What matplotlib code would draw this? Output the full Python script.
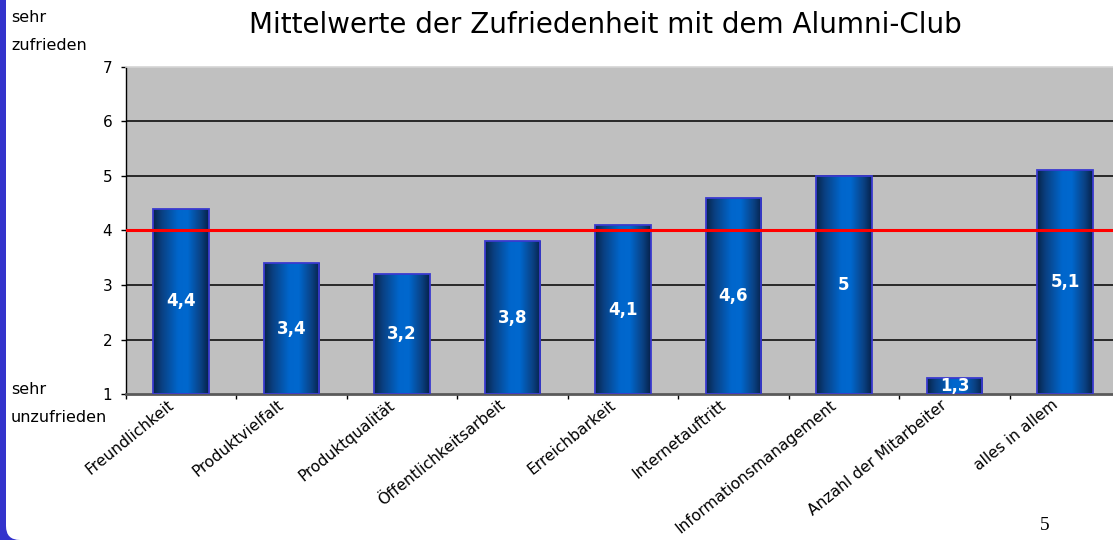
import matplotlib
matplotlib.use("Agg")
import matplotlib.pyplot as plt
import numpy as np
from matplotlib.patches import Rectangle, FancyBboxPatch
from matplotlib.colors import LinearSegmentedColormap
import matplotlib.transforms as mtransforms

categories = ["Freundlichkeit", "Produktvielfalt", "Produktqualität",
              "Öffentlichkeitsarbeit", "Erreichbarkeit", "Internetauftritt",
              "Informationsmanagement", "Anzahl der Mitarbeiter", "alles in allem"]
values = [4.4, 3.4, 3.2, 3.8, 4.1, 4.6, 5.0, 1.3, 5.1]
reference_level = 4
y_ticks = [1, 2, 3, 4, 5, 6, 7]
title = "Mittelwerte der Zufriedenheit mit dem Alumni-Club"
top_label = ["sehr", "zufrieden"]
bottom_label = ["sehr", "unzufrieden"]
page_number = "5"

plt.rcParams['font.family'] = ['DejaVu Sans']

W, H = 1113, 540
fig = plt.figure(figsize=(W / 100, H / 100), dpi=100)

# slide frame: blue left stripe with rounded white page
fig.patches.append(Rectangle((0, 0), 30, H, transform=mtransforms.IdentityTransform(),
                             facecolor="#3333CC", edgecolor="none", zorder=-3))
fig.patches.append(FancyBboxPatch((6, 0), W + 100, H + 100,
                                  boxstyle="round,pad=0,rounding_size=14",
                                  transform=mtransforms.IdentityTransform(),
                                  facecolor="white", edgecolor="none", zorder=-2))

ax_left, ax_right, ax_top, ax_bottom = 125.7, 1120.2, 66.7, 394.3
ax = fig.add_axes([ax_left / W, 1 - ax_bottom / H,
                   (ax_right - ax_left) / W, (ax_bottom - ax_top) / H])
ax.set_facecolor("#C0C0C0")

n = len(categories)
x = np.arange(n)

for yv in y_ticks[1:-1]:
    ax.axhline(yv, color="black", lw=1.1, zorder=0.5)

cmap = LinearSegmentedColormap.from_list("bar", [
    (0.0, "#062448"), (0.15, "#0A3F80"), (0.45, "#0066CC"),
    (0.62, "#0068CE"), (0.85, "#0A4285"), (1.0, "#05214A")])
grad = np.linspace(0, 1, 256).reshape(1, -1)

bars = ax.bar(x, np.array(values) - y_ticks[0], bottom=y_ticks[0], width=0.5,
              facecolor="none", edgecolor="#3A3ACF", linewidth=1.3, zorder=3)
for b in bars:
    x0, y0 = b.get_x(), b.get_y()
    w, h = b.get_width(), b.get_height()
    im = ax.imshow(grad, cmap=cmap, extent=(x0, x0 + w, y0, y0 + h),
                   aspect="auto", zorder=2, interpolation="bilinear")
    clip = Rectangle((x0, y0), w, h, transform=ax.transData)
    im.set_clip_path(clip)

ax.set_xlim(-0.5, n - 0.5)
ax.set_ylim(y_ticks[0], y_ticks[-1])

ax.axhline(reference_level, color="#FF0000", lw=2.2, zorder=4)

for xi, v in zip(x, values):
    ax.text(xi, (v + y_ticks[0]) / 2, f"{v:g}".replace(".", ","),
            ha="center", va="center", color="white", fontsize=12,
            fontweight="bold", zorder=5)

# axes styling
ax.set_yticks(y_ticks)
ax.set_yticklabels([str(t) for t in y_ticks], fontsize=11)
ax.tick_params(axis="y", direction="out", length=3.6, width=1, pad=6, colors="black")
ax.set_xticks([])
ax.set_xticks(np.arange(-0.5, n, 1.0), minor=True)
ax.tick_params(axis="x", which="minor", direction="out", length=3.6, width=1,
               color="black", labelbottom=False)
ax.spines["left"].set_color("black")
ax.spines["left"].set_linewidth(1)
ax.spines["bottom"].set_color("#5A5A5A")
ax.spines["bottom"].set_linewidth(2)
ax.spines["top"].set_color("#D4D4D4")
ax.spines["top"].set_linewidth(1.2)
ax.spines["right"].set_visible(False)

# category labels drawn below the axes (so the plot area can cover them)
blend = mtransforms.blended_transform_factory(ax.transData, ax.transAxes)
lab_tr = mtransforms.offset_copy(blend, fig=fig, x=-14, y=-3, units="dots")
for xi, c in zip(x, categories):
    fig.text(xi, 0, c, transform=lab_tr, rotation=39, rotation_mode="anchor",
             ha="right", va="top", fontsize=11.2, color="black", zorder=-1)

fig.text(605 / W, 1 - 33 / H, title, ha="center", va="baseline", fontsize=20,
         color="black")
fig.text(11 / W, 1 - 18 / H, top_label[0], ha="left", va="center", fontsize=11.5)
fig.text(11 / W, 1 - 45 / H, top_label[1], ha="left", va="center", fontsize=11.5)
fig.text(11 / W, 1 - 389 / H, bottom_label[0], ha="left", va="center", fontsize=11.5)
fig.text(11 / W, 1 - 418 / H, bottom_label[1], ha="left", va="center", fontsize=11.5)
fig.text(1045 / W, 1 - 530 / H, page_number, ha="center", va="baseline",
         fontsize=14, family="Liberation Serif")

fig.savefig("out.png", dpi=100)
